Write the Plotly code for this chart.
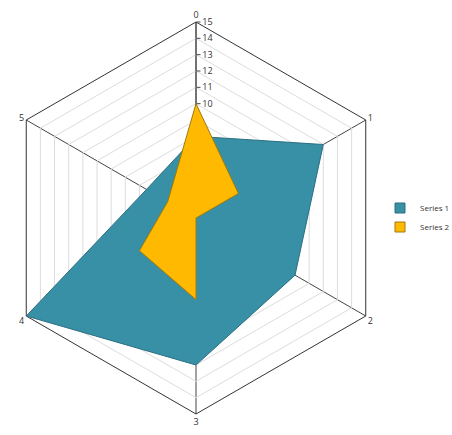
import plotly.graph_objects as go

categories = ["0", "1", "2", "3", "4", "5"]
series1 = [8, 12, 10, 12, 15, 6.5]
series2 = [10, 6, 3, 8, 7, 5]
series_names = ["Series 1", "Series 2"]
radial_ticks = [3, 4, 5, 6, 7, 8, 9, 10, 11, 12, 13, 14, 15]
radial_labels = ["", "", "", "", "", "", "", "10", "11", "12", "13", "14", "15"]

fill_colors = ["#3790A5", "#FFB900"]
line_colors = ["#2B6F80", "#9C7A10"]

W, H = 452, 435
R = 196
cx, cy = 196, 218

fig = go.Figure()
for name, vals, fc, lc in zip(series_names, [series1, series2], fill_colors, line_colors):
    fig.add_trace(go.Scatterpolar(
        r=vals + vals[:1],
        theta=categories + categories[:1],
        mode="lines",
        fill="toself",
        fillcolor=fc,
        line=dict(color=lc, width=1),
        name=name,
        legendgroup=name,
        showlegend=False,
    ))
# legend entries drawn as square swatches
for name, fc, lc in zip(series_names, fill_colors, line_colors):
    fig.add_trace(go.Scatterpolar(
        r=[None], theta=[None],
        mode="markers",
        marker=dict(symbol="square", size=10, color=fc, line=dict(color=lc, width=1)),
        name=name,
        legendgroup=name,
        showlegend=True,
    ))

fig.update_layout(
    width=W, height=H,
    margin=dict(l=0, r=0, t=0, b=0, autoexpand=False),
    paper_bgcolor="white",
    font=dict(family="Open Sans, sans-serif", size=9, color="#333333"),
    showlegend=True,
    legend=dict(x=380 / W, y=0.5, xanchor="left", yanchor="middle",
                font=dict(size=8, color="#333333"), bgcolor="rgba(0,0,0,0)",
                itemwidth=30, tracegroupgap=0),
    polar=dict(
        domain=dict(x=[(cx - R) / W, (cx + R) / W],
                    y=[(H - cy - R) / H, (H - cy + R) / H]),
        bgcolor="white",
        gridshape="linear",
        angularaxis=dict(
            type="category",
            categoryorder="array",
            categoryarray=categories,
            rotation=90,
            direction="clockwise",
            showline=True,
            linecolor="#333333",
            linewidth=1,
            showgrid=True,
            gridcolor="#444444",
            gridwidth=1,
            ticks="",
            tickfont=dict(size=9, color="#333333"),
            layer="below traces",
        ),
        radialaxis=dict(
            range=[3, 15],
            angle=90,
            tickangle=90,
            tickmode="array",
            tickvals=radial_ticks,
            ticktext=radial_labels,
            showline=True,
            linecolor="#444444",
            linewidth=1,
            gridcolor="#DDDDDD",
            gridwidth=1,
            ticks="outside",
            ticklen=4,
            tickcolor="#444444",
            tickfont=dict(size=9, color="#333333"),
            layer="below traces",
        ),
    ),
)

fig.write_html("out.html", config={"displayModeBar": False},
               post_script="document.body.style.margin='0';")
